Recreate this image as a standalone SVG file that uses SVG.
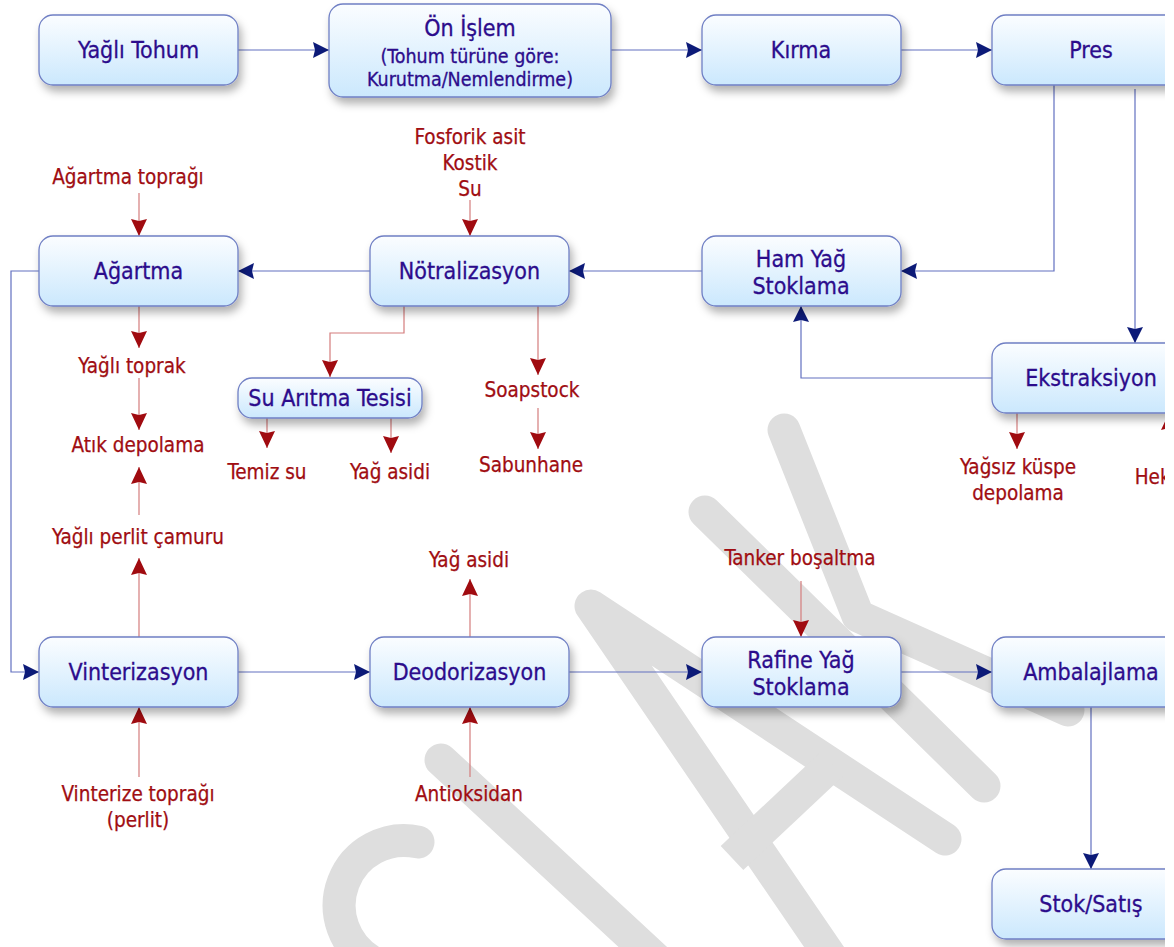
<svg xmlns="http://www.w3.org/2000/svg" width="1174" height="947" viewBox="0 0 1174 947">
<defs>
<linearGradient id="nodeFill" x1="0" y1="0" x2="0" y2="1">
<stop offset="0" stop-color="#fbfdff"/>
<stop offset="1" stop-color="#cbe8fd"/>
</linearGradient>
<filter id="shadow" x="-10%" y="-20%" width="130%" height="160%">
<feDropShadow dx="3" dy="6" stdDeviation="4" flood-color="#000" flood-opacity="0.3"/>
</filter>
<marker id="ab" viewBox="0 0 16 16" refX="16" refY="8" markerWidth="16" markerHeight="16" markerUnits="userSpaceOnUse" orient="auto">
<path d="M0,0 L16,8 L0,16 L2,8 z" fill="#0c1a78"/>
</marker>
<marker id="ar" viewBox="0 0 17 16" refX="17" refY="8" markerWidth="17" markerHeight="16" markerUnits="userSpaceOnUse" orient="auto">
<path d="M0,0 L17,8 L0,16 L2,8 z" fill="#a00b10"/>
</marker>
<clipPath id="clip"><rect x="0" y="0" width="1165" height="947"/></clipPath>
</defs>
<style>
.wm{fill:none;stroke:#dedede;stroke-width:33;stroke-linecap:round;stroke-linejoin:round}
.node rect{fill:url(#nodeFill);stroke:#6f7fc4;stroke-width:1.3;filter:url(#shadow)}
.t{font-family:"DejaVu Sans Condensed","DejaVu Sans",Verdana,sans-serif;font-stretch:condensed;font-size:23px;fill:#2c0c8c;stroke:#2c0c8c;stroke-width:0.3;text-anchor:middle}
.ts{font-size:19.5px}
.r{font-family:"DejaVu Sans Condensed","DejaVu Sans",Verdana,sans-serif;font-stretch:condensed;font-size:20.5px;fill:#a00d12;stroke:#a00d12;stroke-width:0.25;text-anchor:middle}
.cb{fill:none;stroke:#6270c0;stroke-width:1.2;marker-end:url(#ab)}
.cr{fill:none;stroke:#d47c7c;stroke-width:1.2;marker-end:url(#ar)}
</style>
<rect x="0" y="0" width="1174" height="947" fill="#ffffff"/>
<g clip-path="url(#clip)">
<g id="watermark">
<path class="wm" d="M418,842 A65,65 0 0 0 372,962"/>
<path class="wm" d="M441,760 L700,1000"/>
<path class="wm" d="M850,985 L591,606 L945,839"/>
<path class="wm" style="stroke-linecap:butt" d="M732,858 L832,764"/>
<path class="wm" d="M705,512 L984,786"/>
<path class="wm" d="M784,430 L858,616 L1068,710"/>
</g>
<g id="connectors">
<path class="cb" d="M238,50 H329"/>
<path class="cb" d="M611,50 H702"/>
<path class="cb" d="M901,50 H992"/>
<path class="cb" d="M1054,85 V271 H901"/>
<path class="cb" d="M1135,89 V343"/>
<path class="cb" d="M992,378 H801 V306"/>
<path class="cb" d="M702,271 H569"/>
<path class="cb" d="M370,271 H238"/>
<path class="cb" d="M39,271 H11 V672 H39"/>
<path class="cb" d="M238,672 H370"/>
<path class="cb" d="M569,672 H702"/>
<path class="cb" d="M901,672 H992"/>
<path class="cb" d="M1091,707 V869"/>
<path class="cr" d="M139,193 V236"/>
<path class="cr" d="M470,200 V236"/>
<path class="cr" d="M139,306 V348"/>
<path class="cr" d="M139,378 V430"/>
<path class="cr" d="M139,515 V467"/>
<path class="cr" d="M139,637 V558"/>
<path class="cr" d="M139,777 V707"/>
<path class="cr" d="M404,306 V333 H330 V377"/>
<path class="cr" d="M538,306 V375"/>
<path class="cr" d="M538,408 V449"/>
<path class="cr" d="M267,418 V448"/>
<path class="cr" d="M391,418 V453"/>
<path class="cr" d="M470,637 V579"/>
<path class="cr" d="M470,777 V707"/>
<path class="cr" d="M801,581 V637"/>
<path class="cr" d="M1017,413 V449"/>
<path class="cr" d="M1169,460 V413"/>
</g>
<g id="n-yagli-tohum" class="node"><rect x="39" y="15" width="199" height="70" rx="14"/><text class="t" x="138.5" y="58">Yağlı Tohum</text></g>
<g id="n-on-islem" class="node"><rect x="329" y="4" width="282" height="93" rx="14"/><text class="t" x="470" y="36">Ön İşlem</text><text class="t ts" x="470" y="63">(Tohum türüne göre:</text><text class="t ts" x="470" y="86">Kurutma/Nemlendirme)</text></g>
<g id="n-kirma" class="node"><rect x="702" y="15" width="199" height="70" rx="14"/><text class="t" x="801" y="58">Kırma</text></g>
<g id="n-pres" class="node"><rect x="992" y="15" width="199" height="70" rx="14"/><text class="t" x="1091" y="58">Pres</text></g>
<g id="n-agartma" class="node"><rect x="39" y="236" width="199" height="70" rx="14"/><text class="t" x="138.5" y="279">Ağartma</text></g>
<g id="n-notralizasyon" class="node"><rect x="370" y="236" width="199" height="70" rx="14"/><text class="t" x="469.5" y="279">Nötralizasyon</text></g>
<g id="n-ham-yag" class="node"><rect x="702" y="236" width="199" height="70" rx="14"/><text class="t" x="801" y="267">Ham Yağ</text><text class="t" x="801" y="294">Stoklama</text></g>
<g id="n-ekstraksiyon" class="node"><rect x="992" y="343" width="199" height="70" rx="14"/><text class="t" x="1091" y="386">Ekstraksiyon</text></g>
<g id="n-su-aritma" class="node"><rect x="238" y="378" width="184" height="40" rx="14"/><text class="t" x="330" y="406">Su Arıtma Tesisi</text></g>
<g id="n-vinterizasyon" class="node"><rect x="39" y="637" width="199" height="70" rx="14"/><text class="t" x="138.5" y="680">Vinterizasyon</text></g>
<g id="n-deodorizasyon" class="node"><rect x="370" y="637" width="199" height="70" rx="14"/><text class="t" x="469.5" y="680">Deodorizasyon</text></g>
<g id="n-rafine" class="node"><rect x="702" y="637" width="199" height="70" rx="14"/><text class="t" x="801" y="668">Rafine Yağ</text><text class="t" x="801" y="695">Stoklama</text></g>
<g id="n-ambalajlama" class="node"><rect x="992" y="637" width="199" height="70" rx="14"/><text class="t" x="1091" y="680">Ambalajlama</text></g>
<g id="n-stok" class="node"><rect x="992" y="869" width="199" height="70" rx="14"/><text class="t" x="1091" y="912">Stok/Satış</text></g>
<g id="labels">
<text class="r" x="128" y="184">Ağartma toprağı</text>
<text class="r" x="470" y="144">Fosforik asit</text>
<text class="r" x="470" y="170">Kostik</text>
<text class="r" x="470" y="196">Su</text>
<text class="r" x="132" y="373">Yağlı toprak</text>
<text class="r" x="138" y="452">Atık depolama</text>
<text class="r" x="138" y="544">Yağlı perlit çamuru</text>
<text class="r" x="138" y="801">Vinterize toprağı</text>
<text class="r" x="138" y="827">(perlit)</text>
<text class="r" x="267" y="479">Temiz su</text>
<text class="r" x="390" y="479">Yağ asidi</text>
<text class="r" x="532" y="397">Soapstock</text>
<text class="r" x="531" y="472">Sabunhane</text>
<text class="r" x="469" y="567">Yağ asidi</text>
<text class="r" x="469" y="801">Antioksidan</text>
<text class="r" x="800" y="565">Tanker boşaltma</text>
<text class="r" x="1018" y="474">Yağsız küspe</text>
<text class="r" x="1018" y="500">depolama</text>
<text class="r" x="1169" y="484">Hekzan</text>
</g>
</g>
</svg>
